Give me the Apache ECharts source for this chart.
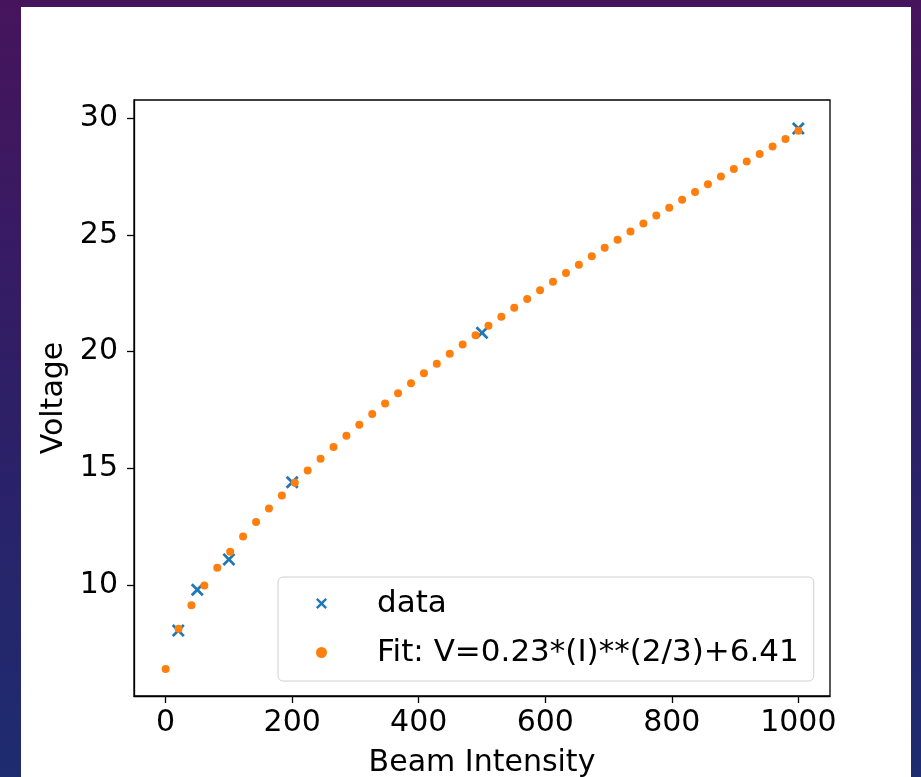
<!DOCTYPE html>
<html>
<head>
<meta charset="utf-8">
<script src="https://cdn.jsdelivr.net/npm/echarts@6/dist/echarts.min.js"></script>
<style>
html, body {
    margin: 0;
    padding: 0;
    width: 921px;
    height: 777px;
    overflow: hidden;
    background: linear-gradient(to bottom, #46145c 0%, #2e1f66 50%, #1e2c70 100%);
}
#panel {
    position: absolute;
    left: 21px;
    top: 7px;
    width: 890px;
    height: 770px;
    background: #fff;
}
#chart {
    position: absolute;
    left: 0;
    top: 0;
    width: 921px;
    height: 777px;
}
</style>
</head>
<body>
<div id="panel"></div>
<div id="chart"></div>
<script>
// measured points
const dataX = [20, 50, 100, 200, 500, 1000]
const dataY = [8.05, 9.8, 11.1, 14.4, 20.8, 29.55]

// fitted curve samples (50 points)
const fitX = [0, 20.4, 40.8, 61.2, 81.6, 102.0, 122.4, 142.9, 163.3, 183.7,
    204.1, 224.5, 244.9, 265.3, 285.7, 306.1, 326.5, 346.9, 367.3, 387.8,
    408.2, 428.6, 449.0, 469.4, 489.8, 510.2, 530.6, 551.0, 571.4, 591.8,
    612.2, 632.7, 653.1, 673.5, 693.9, 714.3, 734.7, 755.1, 775.5, 795.9,
    816.3, 836.7, 857.1, 877.6, 898.0, 918.4, 938.8, 959.2, 979.6, 1000]
const fitY = [6.41, 8.13, 9.14, 9.98, 10.74, 11.43, 12.08, 12.70, 13.28, 13.84,
    14.38, 14.91, 15.41, 15.91, 16.39, 16.86, 17.32, 17.77, 18.21, 18.64,
    19.07, 19.48, 19.90, 20.30, 20.70, 21.10, 21.49, 21.87, 22.25, 22.62,
    22.99, 23.36, 23.72, 24.08, 24.44, 24.79, 25.14, 25.48, 25.82, 26.16,
    26.50, 26.83, 27.16, 27.49, 27.82, 28.14, 28.46, 28.78, 29.10, 29.45]

const xTicks = [0, 200, 400, 600, 800, 1000]
const yTicks = [10, 15, 20, 25, 30]

const seriesNames = ['data', 'Fit: V=0.23*(I)**(2/3)+6.41']

const FONT = 'DejaVu Sans'
const FS = 30
const crossPath = 'path://M0,1.5L1.5,0L5,3.5L8.5,0L10,1.5L6.5,5L10,8.5L8.5,10L5,6.5L1.5,10L0,8.5L3.5,5Z'

let chart = echarts.init(document.getElementById('chart'))

chart.setOption({
    animation: false,
    grid: {
        left: 134,
        right: 91,
        top: 100,
        bottom: 81,
        outerBoundsMode: 'none',
        containLabel: false,
        show: true,
        borderColor: '#000',
        borderWidth: 1.3,
        backgroundColor: 'transparent'
    },
    xAxis: {
        type: 'value',
        min: -50,
        max: 1050,
        name: 'Beam Intensity',
        nameLocation: 'middle',
        nameGap: 52,
        nameTextStyle: {fontFamily: FONT, fontSize: FS, color: '#000'},
        splitLine: {show: false},
        axisLine: {show: true, onZero: false, lineStyle: {color: '#000', width: 1.3}},
        axisTick: {show: true, length: 7, customValues: xTicks, lineStyle: {color: '#000', width: 1.3}},
        axisLabel: {
            customValues: xTicks,
            margin: 12,
            fontFamily: FONT,
            fontSize: FS,
            color: '#000',
            formatter: v => String(v)
        }
    },
    yAxis: {
        type: 'value',
        min: 5.25,
        max: 30.77,
        name: 'Voltage',
        nameLocation: 'middle',
        nameGap: 64,
        nameTextStyle: {fontFamily: FONT, fontSize: FS, color: '#000'},
        splitLine: {show: false},
        axisLine: {show: true, onZero: false, lineStyle: {color: '#000', width: 1.3}},
        axisTick: {show: true, length: 7, customValues: yTicks, lineStyle: {color: '#000', width: 1.3}},
        axisLabel: {customValues: yTicks, margin: 16, fontFamily: FONT, fontSize: FS, color: '#000'}
    },
    legend: {
        orient: 'vertical',
        left: 278,
        top: 577,
        padding: [11, 15, 13, 38],
        itemGap: 18,
        itemWidth: 11,
        itemHeight: 11,
        backgroundColor: 'rgba(255,255,255,0.8)',
        borderColor: '#d0d0d0',
        borderWidth: 1,
        borderRadius: 5,
        selectedMode: false,
        textStyle: {fontFamily: FONT, fontSize: 31, color: '#000', padding: [0, 0, 0, 45]},
        data: [
            {name: seriesNames[0], icon: crossPath},
            {name: seriesNames[1], icon: 'circle'}
        ]
    },
    series: [
        {
            name: seriesNames[0],
            type: 'scatter',
            symbol: crossPath,
            symbolSize: 13,
            itemStyle: {color: '#1f77b4', opacity: 1},
            data: dataX.map((x, i) => [x, dataY[i]])
        },
        {
            name: seriesNames[1],
            type: 'scatter',
            symbol: 'circle',
            symbolSize: 8,
            itemStyle: {color: '#ff7f0e', opacity: 1},
            data: fitX.map((x, i) => [x, fitY[i]])
        }
    ]
})
</script>
</body>
</html>
